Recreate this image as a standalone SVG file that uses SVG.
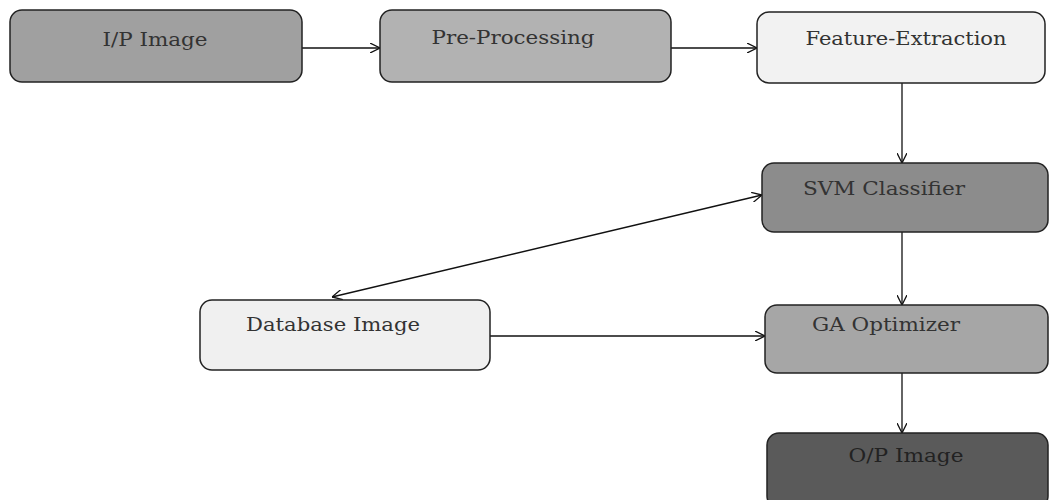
<svg xmlns="http://www.w3.org/2000/svg" width="1050" height="500" viewBox="0 0 1050 500">
<style>
.box{stroke:#222;stroke-width:1.5}
.lbl{font-family:"DejaVu Serif","Liberation Serif",serif;font-size:18px;fill:#333;text-anchor:middle}
.edge{stroke:#111;stroke-width:1.3;fill:none}
</style>
<defs>
<marker id="arr" viewBox="0 0 10 10" refX="10" refY="5" markerWidth="10" markerHeight="10" markerUnits="userSpaceOnUse" orient="auto-start-reverse">
<path d="M0,0 L10,5 L0,10" fill="none" stroke="#111" stroke-width="1.3"/>
</marker>
</defs>
<rect width="1050" height="500" fill="#fff"/>
<g id="edges">
<line class="edge" x1="302" y1="48" x2="380" y2="48" marker-end="url(#arr)"/>
<line class="edge" x1="671" y1="48" x2="757" y2="48" marker-end="url(#arr)"/>
<line class="edge" x1="902" y1="83" x2="902" y2="163" marker-end="url(#arr)"/>
<line class="edge" x1="902" y1="232" x2="902" y2="305" marker-end="url(#arr)"/>
<line class="edge" x1="902" y1="373" x2="902" y2="433" marker-end="url(#arr)"/>
<line class="edge" x1="490" y1="336" x2="765" y2="336" marker-end="url(#arr)"/>
<line class="edge" x1="332" y1="297" x2="762" y2="195" marker-start="url(#arr)" marker-end="url(#arr)"/>
</g>
<g id="n-ip">
<rect class="box" x="10" y="10" width="292" height="72" rx="12" fill="#a0a0a0"/>
<text class="lbl" x="155" y="46" textLength="105" lengthAdjust="spacingAndGlyphs">I/P Image</text>
</g>
<g id="n-pre">
<rect class="box" x="380" y="10" width="291" height="72" rx="12" fill="#b2b2b2"/>
<text class="lbl" x="513" y="44" textLength="163" lengthAdjust="spacingAndGlyphs">Pre-Processing</text>
</g>
<g id="n-fe">
<rect class="box" x="757" y="12" width="288" height="71" rx="12" fill="#f2f2f2"/>
<text class="lbl" x="906" y="45" textLength="201" lengthAdjust="spacingAndGlyphs">Feature-Extraction</text>
</g>
<g id="n-svm">
<rect class="box" x="762" y="163" width="286" height="69" rx="12" fill="#8c8c8c"/>
<text class="lbl" x="884" y="195" textLength="162" lengthAdjust="spacingAndGlyphs">SVM Classifier</text>
</g>
<g id="n-db">
<rect class="box" x="200" y="300" width="290" height="70" rx="12" fill="#f0f0f0"/>
<text class="lbl" x="333" y="331" textLength="174" lengthAdjust="spacingAndGlyphs">Database Image</text>
</g>
<g id="n-ga">
<rect class="box" x="765" y="305" width="283" height="68" rx="12" fill="#a6a6a6"/>
<text class="lbl" x="886" y="331" textLength="148" lengthAdjust="spacingAndGlyphs">GA Optimizer</text>
</g>
<g id="n-op">
<rect class="box" x="767" y="433" width="281" height="75" rx="12" fill="#5a5a5a"/>
<text class="lbl" x="906" y="462" textLength="115" lengthAdjust="spacingAndGlyphs" style="fill:#222">O/P Image</text>
</g>
</svg>
